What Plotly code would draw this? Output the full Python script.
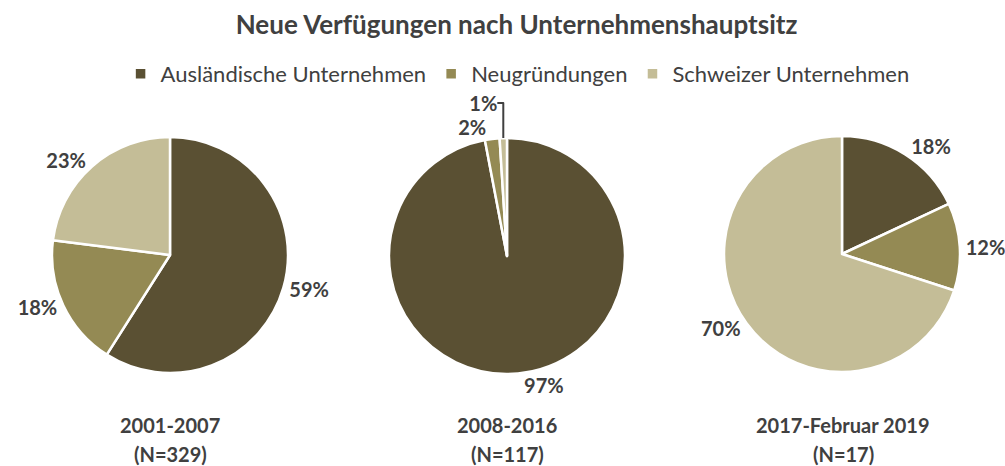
import plotly.graph_objects as go

categories = ["Ausländische Unternehmen", "Neugründungen", "Schweizer Unternehmen"]
colors = ["#5a5033", "#948a54", "#c4bd97"]
period_labels = ["2001-2007", "2008-2016", "2017-Februar 2019"]
sample_sizes = ["(N=329)", "(N=117)", "(N=17)"]
values_2001_2007 = [59, 18, 23]
values_2008_2016 = [97, 2, 1]
values_2017_2019 = [18, 12, 70]
all_values = [values_2001_2007, values_2008_2016, values_2017_2019]

W, H = 1005, 466
centers_px = [(170, 255), (507, 256), (842, 254)]
label_x_px = [170, 507, 843]
radius_px = 118
FONT = "Lato, Open Sans, sans-serif"
TXT = "#404040"

fig = go.Figure()
for i, vals in enumerate(all_values):
    cx, cy = centers_px[i]
    fig.add_trace(go.Pie(
        labels=categories,
        values=vals,
        sort=False,
        direction="clockwise",
        rotation=0,
        automargin=False,
        marker=dict(colors=colors, line=dict(color="white", width=2.5)),
        textinfo="percent",
        texttemplate="%{percent:.0%}",
        textposition="outside",
        textfont=dict(family=FONT, size=20, color=TXT, weight="bold"),
        domain=dict(x=[(cx - radius_px) / W, (cx + radius_px) / W],
                    y=[1 - (cy + radius_px) / H, 1 - (cy - radius_px) / H]),
        showlegend=(i == 0),
        hoverinfo="label+percent",
    ))
    fig.add_annotation(
        x=label_x_px[i] / W, y=1 - 425 / H, xref="paper", yref="paper",
        text=period_labels[i], showarrow=False,
        font=dict(family=FONT, size=20, color=TXT, weight="bold"),
        xanchor="center", yanchor="middle",
    )
    fig.add_annotation(
        x=label_x_px[i] / W, y=1 - 454 / H, xref="paper", yref="paper",
        text=sample_sizes[i], showarrow=False,
        font=dict(family=FONT, size=20, color=TXT, weight="bold"),
        xanchor="center", yanchor="middle",
    )

fig.update_layout(
    width=W, height=H,
    margin=dict(l=0, r=0, t=0, b=0, autoexpand=False),
    paper_bgcolor="white",
    plot_bgcolor="white",
    title=dict(text="<b>Neue Verfügungen nach Unternehmenshauptsitz</b>",
               x=0.514, xanchor="center", y=1 - 25 / H, yanchor="middle",
               font=dict(family=FONT, size=26, color=TXT)),
    legend=dict(orientation="h", x=0.515, xanchor="center", y=1 - 74 / H, yanchor="middle",
                font=dict(family=FONT, size=22, color=TXT), itemwidth=30,
                traceorder="normal", bgcolor="rgba(0,0,0,0)"),
)

fig.write_html("out.html", config={"displayModeBar": False},
               post_script="document.body.style.margin='0';")
